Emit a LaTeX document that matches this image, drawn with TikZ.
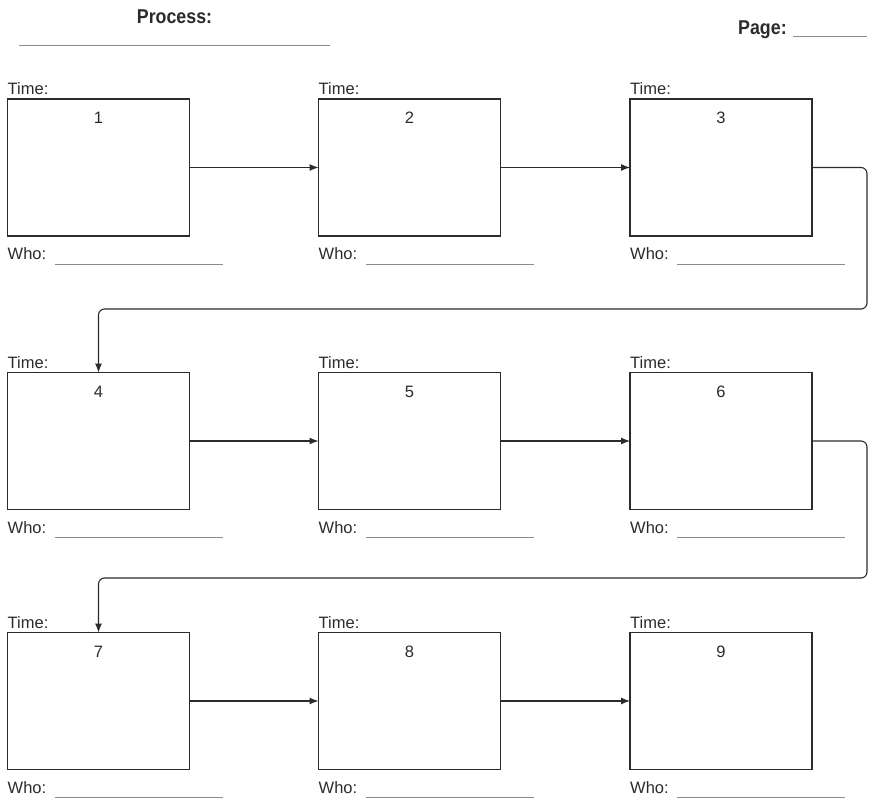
\documentclass[tikz,border=0pt]{standalone}
\usepackage{fontspec}
\setmainfont{Liberation Sans}
\newfontfamily\headfont[FakeStretch=0.89]{Liberation Sans}
\usetikzlibrary{arrows.meta}
\definecolor{inkc}{HTML}{2B2B2B}
\definecolor{rulec}{HTML}{8A8A8A}
\begin{document}
\begin{tikzpicture}[x=1pt,y=-1pt,
  stepbox/.style={draw=inkc, line width=1.3pt, minimum width=182pt,
    minimum height=137pt, anchor=north west, inner sep=0pt, outer sep=0pt},
  lbl/.style={font=\fontsize{16.5}{19}\selectfont, text=inkc, anchor=base west, inner sep=0pt},
  numlbl/.style={font=\fontsize{16.5}{19}\selectfont, text=inkc, anchor=base, inner sep=0pt},
  head/.style={font=\headfont\bfseries\fontsize{20}{24}\selectfont, text=inkc, inner sep=0pt},
  blank/.style={draw=rulec, line width=0.8pt},
  conn/.style={draw=inkc, line width=1.1pt, -{Latex[length=9pt,width=7pt]}},
  retconn/.style={conn, rounded corners=6pt}]
\useasboundingbox (0,0) rectangle (873,802);

% header
\node[head, anchor=base] (proc) at (174.5,24) {Process:};
\coordinate (procA) at (19,45);
\coordinate (procB) at (330,45);
\draw[blank] (procA) -- (procB);
\node[head, anchor=base west] (page) at (738,35) {Page:};
\coordinate (pageA) at (793,36);
\coordinate (pageB) at (867,36);
\draw[blank] (pageA) -- (pageB);

% the nine step boxes with their labels
\foreach \row/\top in {0/99,1/372.5,2/632.5}{
  \foreach \col/\left in {1/7.5,2/318.5,3/630}{
    \pgfmathtruncatemacro{\k}{3*\row+\col}
    \node[stepbox] (b\k) at (\left,\top) {};
    \node[lbl] (t\k) at (\left,\top-4) {Time:};
    \node[numlbl] (n\k) at (\left+91,\top+25) {\k};
    \node[lbl] (w\k) at (\left,\top+161) {Who:};
    \coordinate (wa\k) at (\left+47,\top+165);
    \coordinate (wb\k) at (\left+215,\top+165);
    \draw[blank] (wa\k) -- (wb\k);
  }
}

% connectors within each row
\draw[conn] (b1.east) -- (b2.west);
\draw[conn] (b2.east) -- (b3.west);
\draw[conn] (b4.east) -- (b5.west);
\draw[conn] (b5.east) -- (b6.west);
\draw[conn] (b7.east) -- (b8.west);
\draw[conn] (b8.east) -- (b9.west);

% connectors wrapping to the next row
\coordinate (r1) at (867,309);
\coordinate (r2) at (867,578);
\draw[retconn] (b3.east) -| (r1) -| (b4.north);
\draw[retconn] (b6.east) -| (r2) -| (b7.north);
\end{tikzpicture}
\end{document}
